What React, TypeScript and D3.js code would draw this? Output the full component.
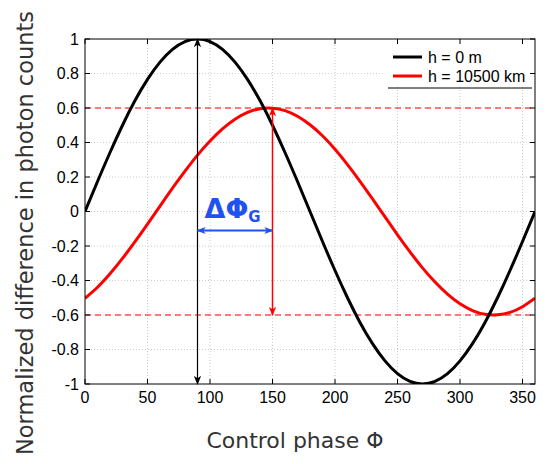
import React from "react";
import * as d3 from "d3";

// phase in degrees, sampled every 10 degrees
const phases = [0, 10, 20, 30, 40, 50, 60, 70, 80, 90, 100, 110, 120, 130, 140, 150, 160, 170, 180,
  190, 200, 210, 220, 230, 240, 250, 260, 270, 280, 290, 300, 310, 320, 330, 340, 350, 360];

// h = 0 m
const ground = [0, 0.174, 0.342, 0.5, 0.643, 0.766, 0.866, 0.94, 0.985, 1, 0.985, 0.94, 0.866, 0.766,
  0.643, 0.5, 0.342, 0.174, 0, -0.174, -0.342, -0.5, -0.643, -0.766, -0.866, -0.94, -0.985, -1, -0.985,
  -0.94, -0.866, -0.766, -0.643, -0.5, -0.342, -0.174, 0];

// h = 10500 km
const orbit = [-0.503, -0.439, -0.361, -0.272, -0.175, -0.073, 0.031, 0.135, 0.234, 0.327, 0.409, 0.479,
  0.535, 0.574, 0.596, 0.599, 0.585, 0.552, 0.503, 0.439, 0.361, 0.272, 0.175, 0.073, -0.031, -0.135,
  -0.234, -0.327, -0.409, -0.479, -0.535, -0.574, -0.596, -0.599, -0.585, -0.552, -0.503];

const xTicks = [0, 50, 100, 150, 200, 250, 300, 350];
const yTicks = [-1, -0.8, -0.6, -0.4, -0.2, 0, 0.2, 0.4, 0.6, 0.8, 1];
const levels = [0.6, -0.6];

const legendItems = [
  { label: "h = 0 m", color: "#000000" },
  { label: "h = 10500 km", color: "#ff0000" },
];

// annotation positions, in data units
const peakPhase = 90;
const shiftedPeak = 150;
const deltaY = -0.11;

const W = 546;
const H = 464;
const margin = { top: 39, right: 11, bottom: 80, left: 85 };

export default function App() {
  const innerW = W - margin.left - margin.right;
  const innerH = H - margin.top - margin.bottom;

  const x = d3.scaleLinear().domain([0, 360]).range([0, innerW]);
  const y = d3.scaleLinear().domain([-1, 1]).range([innerH, 0]);

  const line = d3
    .line<number>()
    .x((_, i) => x(phases[i]))
    .y((d) => y(d))
    .curve(d3.curveNatural);

  const tickFont = "'Liberation Sans', Arial, sans-serif";
  const labelFont = "'DejaVu Sans', sans-serif";
  const blue = "#1f52f0";

  return (
    <svg width={W} height={H} style={{ position: "absolute", left: 0, top: 0, background: "#fff" }}>
      <defs>
        {[
          ["arrBlack", "#000"],
          ["arrRed", "#ff0000"],
          ["arrBlue", blue],
        ].map(([id, c]) => (
          <marker key={id} id={id} viewBox="0 0 10 10" refX="9" refY="5" markerWidth="9" markerHeight="9"
            markerUnits="userSpaceOnUse" orient="auto-start-reverse">
            <path d="M0,1 L10,5 L0,9 L2.5,5 z" fill={c} />
          </marker>
        ))}
        <clipPath id="plotClip">
          <rect x={0} y={0} width={innerW} height={innerH} />
        </clipPath>
      </defs>
      <g transform={`translate(${margin.left},${margin.top})`}>
        {/* grid */}
        {xTicks.filter((t) => t > 0).map((t) => (
          <line key={"gx" + t} x1={x(t)} x2={x(t)} y1={0} y2={innerH} stroke="#cccccc"
            strokeWidth={1} strokeDasharray="1,2" />
        ))}
        {yTicks.filter((t) => t > -1 && t < 1).map((t) => (
          <line key={"gy" + t} x1={0} x2={innerW} y1={y(t)} y2={y(t)} stroke="#cccccc"
            strokeWidth={1} strokeDasharray="1,2" />
        ))}

        {/* dashed reference levels */}
        {levels.map((l) => (
          <line key={"lv" + l} x1={0} x2={innerW} y1={y(l)} y2={y(l)} stroke="#ff0000"
            strokeWidth={1.2} strokeDasharray="6,4" />
        ))}

        <g clipPath="url(#plotClip)">
          <path d={line(orbit) ?? ""} fill="none" stroke="#ff0000" strokeWidth={3} />
          <path d={line(ground) ?? ""} fill="none" stroke="#000" strokeWidth={3} />
        </g>

        {/* annotations */}
        <line x1={x(peakPhase)} x2={x(peakPhase)} y1={y(1)} y2={y(-1)} stroke="#000" strokeWidth={1.2}
          markerStart="url(#arrBlack)" markerEnd="url(#arrBlack)" />
        <line x1={x(shiftedPeak)} x2={x(shiftedPeak)} y1={y(0.6)} y2={y(-0.6)} stroke="#ff0000"
          strokeWidth={1.5} markerStart="url(#arrRed)" markerEnd="url(#arrRed)" />
        <line x1={x(peakPhase)} x2={x(shiftedPeak)} y1={y(deltaY)} y2={y(deltaY)} stroke={blue}
          strokeWidth={2} markerStart="url(#arrBlue)" markerEnd="url(#arrBlue)" />
        <text x={x(peakPhase) + 7} y={y(deltaY) - 12} fill={blue} fontFamily={labelFont}
          fontWeight="bold" fontSize={27}>
          ΔΦ<tspan fontSize={15} dy={4}>G</tspan>
        </text>

        {/* legend */}
        <rect x={innerW - 152} y={1} width={151} height={47} fill="#fff" />
        <line x1={innerW - 147} x2={innerW - 3} y1={49} y2={49} stroke="#000" strokeWidth={1} />
        {legendItems.map((d, i) => (
          <g key={d.label} transform={`translate(${innerW - 142},${18 + i * 19})`}>
            <line x1={0} x2={29} y1={0} y2={0} stroke={d.color} strokeWidth={3} />
            <text x={35} y={0} dy="0.35em" fontFamily={tickFont} fontSize={16} fill="#000">{d.label}</text>
          </g>
        ))}

        {/* frame and ticks */}
        <rect x={0} y={0} width={innerW} height={innerH} fill="none" stroke="#000" strokeWidth={1} />
        {xTicks.map((t) => (
          <g key={"tx" + t}>
            <line x1={x(t)} x2={x(t)} y1={innerH} y2={innerH - 5} stroke="#000" />
            <line x1={x(t)} x2={x(t)} y1={0} y2={5} stroke="#000" />
            <text x={x(t)} y={innerH + 19} textAnchor="middle" fontFamily={tickFont} fontSize={16}
              fill="#000">{t}</text>
          </g>
        ))}
        {yTicks.map((t) => (
          <g key={"ty" + t}>
            <line x1={0} x2={5} y1={y(t)} y2={y(t)} stroke="#000" />
            <line x1={innerW} x2={innerW - 5} y1={y(t)} y2={y(t)} stroke="#000" />
            <text x={-6} y={y(t)} dy="0.35em" textAnchor="end" fontFamily={tickFont} fontSize={16}
              fill="#000">{d3.format("~g")(t).replace("−", "-")}</text>
          </g>
        ))}
      </g>

      <text x={295} y={448} textAnchor="middle" fontFamily={labelFont} fontSize={22} fill="#333">
        Control phase Φ
      </text>
      <text transform={`translate(33,233) rotate(-90)`} textAnchor="middle" fontFamily={labelFont}
        fontSize={22.5} fill="#333">
        Normalized difference in photon counts
      </text>
    </svg>
  );
}
